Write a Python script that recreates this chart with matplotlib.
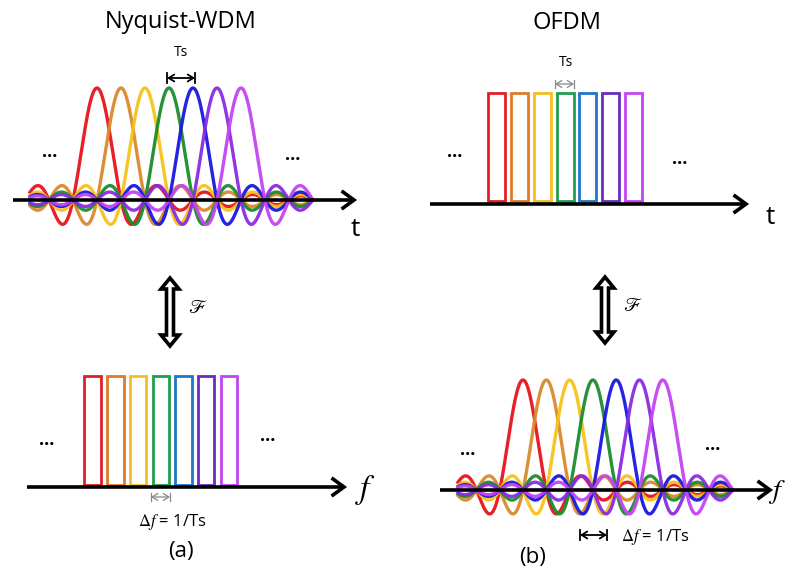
import numpy as np
import matplotlib.pyplot as plt
from matplotlib.patches import Rectangle, Polygon, FancyArrowPatch

plt.rcParams['font.family'] = ['Open Sans', 'DejaVu Sans']
plt.rcParams['mathtext.fontset'] = 'stix'

# subcarriers, left to right
pulse_colors = ['#e8141c', '#d98a2c', '#f6c21a', '#1b8c2c', '#1818e0', '#8a2be2', '#c444f2']
rect_colors = ['#e41e26', '#e07a28', '#f4be22', '#1fa04e', '#1f78c8', '#6a2bc2', '#c444f2']
n_sub = len(pulse_colors)
peak = [1.0] * n_sub

titles = ['Nyquist-WDM', 'OFDM']
panel_labels = ['(a)', '(b)']
axis_names = [['t', r'$f$'], ['t', r'$f$']]
delta_label = r'$\it{\Delta f}$ = 1/Ts'

fig = plt.figure(figsize=(7.88, 5.70), dpi=100)
ax = fig.add_axes([0, 0, 1, 1])
ax.set_xlim(0, 788)
ax.set_ylim(570, 0)
ax.axis('off')


def axis_arrow(x0, x1, y):
    ax.plot([x0, x1 - 2], [y, y], color='black', lw=2.6, solid_capstyle='butt', zorder=5)
    ax.plot([x1 - 11, x1, x1 - 11], [y - 8, y, y + 8], color='black', lw=2.6,
            solid_joinstyle='miter', zorder=5)


def sinc_group(x_first, step, base, height, xa, xb):
    x = np.linspace(xa, xb, 900)
    for k, c in enumerate(pulse_colors):
        cx = x_first + k * step
        y = base - height * peak[k] * np.sinc((x - cx) / step)
        ax.plot(x, y, color=c, lw=2.4, alpha=0.95, zorder=3)


def rect_group(x_first, step, width, top, bottom):
    for k, c in enumerate(rect_colors):
        ax.add_patch(Rectangle((x_first + k * step, top), width, bottom - top,
                               fill=False, edgecolor=c, lw=2.0, zorder=3))


def spacing_mark(x0, x1, y, color, tick=7, lw=1.0):
    ax.plot([x0, x0], [y - tick / 2, y + tick / 2], color=color, lw=lw)
    ax.plot([x1, x1], [y - tick / 2, y + tick / 2], color=color, lw=lw)
    ax.add_patch(FancyArrowPatch((x0, y), (x1, y), arrowstyle='<->,head_length=4,head_width=2.5',
                                 color=color, lw=lw, shrinkA=0, shrinkB=0))


def fourier_arrow(x, y0, y1):
    hw, sw, hh = 9, 3.5, 11
    pts = [(x, y0), (x + hw, y0 + hh), (x + sw, y0 + hh), (x + sw, y1 - hh), (x + hw, y1 - hh),
           (x, y1), (x - hw, y1 - hh), (x - sw, y1 - hh), (x - sw, y0 + hh), (x - hw, y0 + hh)]
    ax.add_patch(Polygon(pts, closed=True, facecolor='white', edgecolor='black', lw=2.6,
                         joinstyle='miter'))
    ax.text(x + 28, (y0 + y1) / 2 - 4, r'$\mathscr{F}$', fontsize=14, ha='center', va='center')


# (a) Nyquist-WDM
ax.text(181, 22, titles[0], fontsize=17, ha='center', va='center')
ax.text(181, 52, 'Ts', fontsize=10, ha='center', va='center')
spacing_mark(167, 195, 78, 'black', tick=10, lw=1.3)
sinc_group(97, 24, 200, 112, 30, 312)
axis_arrow(13, 354, 200)
ax.text(50, 152, '...', fontsize=13, ha='center', va='center', fontweight='bold')
ax.text(293, 155, '...', fontsize=13, ha='center', va='center', fontweight='bold')
ax.text(355, 230, axis_names[0][0], fontsize=19, ha='center', va='center')

fourier_arrow(170, 278, 346)

rect_group(84.5, 22.7, 16.5, 376, 485)
axis_arrow(27, 344, 487)
ax.text(47, 440, '...', fontsize=13, ha='center', va='center', fontweight='bold')
ax.text(268, 436, '...', fontsize=13, ha='center', va='center', fontweight='bold')
ax.text(366, 490, axis_names[0][1], fontsize=24, ha='center', va='center')
spacing_mark(151, 170, 497, '#888888', tick=8, lw=0.9)
ax.text(172, 522, delta_label, fontsize=12, ha='center', va='center')
ax.text(181, 551, panel_labels[0], fontsize=16, ha='center', va='center')

# (b) OFDM
ax.text(567, 23, titles[1], fontsize=17, ha='center', va='center')
ax.text(566, 62, 'Ts', fontsize=10, ha='center', va='center')
spacing_mark(555, 574, 84, '#888888', tick=8, lw=0.9)
rect_group(488.5, 22.7, 17, 93, 201)
axis_arrow(430, 746, 204)
ax.text(455, 152, '...', fontsize=13, ha='center', va='center', fontweight='bold')
ax.text(680, 159, '...', fontsize=13, ha='center', va='center', fontweight='bold')
ax.text(770, 218, axis_names[1][0], fontsize=19, ha='center', va='center')

fourier_arrow(605, 277, 343)

sinc_group(523, 23.3, 490, 110, 458, 732)
axis_arrow(440, 770, 490)
ax.text(468, 450, '...', fontsize=13, ha='center', va='center', fontweight='bold')
ax.text(713, 445, '...', fontsize=13, ha='center', va='center', fontweight='bold')
ax.text(777, 492, axis_names[1][1], fontsize=20, ha='center', va='center')
spacing_mark(580, 607, 535, 'black', tick=10, lw=1.3)
ax.text(655, 537, delta_label, fontsize=12, ha='center', va='center')
ax.text(533, 557, panel_labels[1], fontsize=16, ha='center', va='center')

fig.savefig('out.png', dpi=100)
